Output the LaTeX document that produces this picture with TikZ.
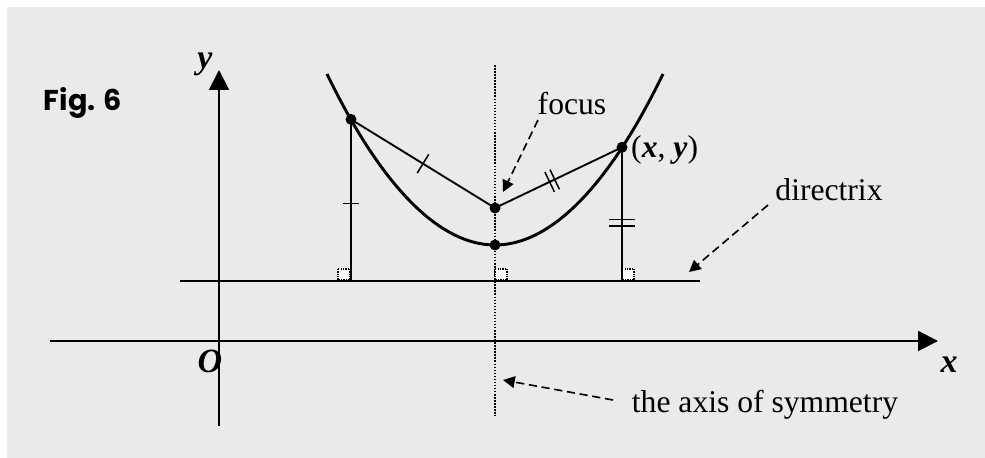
\documentclass[tikz,border=0pt]{standalone}
\usepackage{fontspec}
\setmainfont{Liberation Serif}
\newfontfamily\figfont{Poppins}
\usetikzlibrary{positioning,calc,arrows.meta}
\definecolor{panelGrey}{HTML}{EAEAEA}

\begin{document}
\begin{tikzpicture}[x=0.03cm, y=-0.03cm,
  lbl/.style={font=\fontsize{27}{32}\selectfont, inner sep=0pt},
  axlbl/.style={font=\fontsize{29}{34}\selectfont\bfseries\itshape, inner sep=0pt},
  callout/.style={dashed, dash pattern=on 7pt off 4pt, line width=1.4pt,
    -{Triangle[length=10pt, width=10pt]}}]

%% panel -------------------------------------------------------------
\useasboundingbox (0,0) rectangle (985,458);
\fill[panelGrey] (7,7) rectangle (985,458);

\def\kPar{0.00606}    % curvature of the parabola
\def\xV{495}          % vertex x
\def\yV{245}          % vertex y
\def\yD{281}          % directrix y

% --- POINTS ---
\coordinate (vx) at (\xV, \yV);
\coordinate (fc) at (\xV, 208);
\pgfmathsetmacro\yL{\yV - (\kPar*(351-\xV))*(351-\xV)}
\pgfmathsetmacro\yR{\yV - (\kPar*(622-\xV))*(622-\xV)}
\coordinate (lp) at (351, \yL);
\coordinate (rp) at (622, \yR);
\coordinate (lf) at (351, \yD);
\coordinate (vf) at (\xV, \yD);
\coordinate (rf) at (622, \yD);

% --- AXES ---
\coordinate (xs) at (50, 341);
\coordinate (xe) at (938, 341);
\coordinate (ys) at (219, 426);
\coordinate (ye) at (219, 70);
\draw[line width=1.7pt, -{Triangle[length=17pt, width=17pt]}] (xs) -- (xe);
\draw[line width=1.7pt, -{Triangle[length=17pt, width=17pt]}] (ys) -- (ye);
\node[axlbl] (lblx) at (949, 365) {x};
\node[axlbl] (lbly) at (205, 64) {y};
\node[axlbl] (lblO) at (210, 361) {O};

% --- AXIS OF SYMMETRY (dotted) ---
\coordinate (at) at (\xV, 65);
\coordinate (ab) at (\xV, 416);
\draw[line width=1.1pt, dash pattern=on 1.3pt off 1.3pt] (at) -- (ab);

% --- RIGHT-ANGLE MARKS ---
\foreach \p/\dx in {lf/-13, vf/0, rf/0} {
  \draw[fill=white, line width=0.9pt, dash pattern=on 1pt off 1pt]
    ($(\p)+(\dx,-12)$) rectangle ($(\p)+(\dx+12,-1)$);
}

% --- DIRECTRIX ---
\coordinate (ds) at (180, \yD);
\coordinate (de) at (700, \yD);
\draw[line width=2.2pt] (ds) -- (de);

% --- DISTANCES ---
\draw[line width=1.6pt] (lp) -- (fc) -- (rp);
\draw[line width=1.6pt] (lp) -- (lf);
\draw[line width=1.6pt] (rp) -- (rf);

% single ticks
\coordinate (m1) at ($(lp)!0.5!(fc)$);
\draw[line width=1.3pt] ($(m1)!0.33cm!90:(fc)$) -- ($(m1)!0.33cm!-90:(fc)$);
\coordinate (m2) at ($(lp)!0.52!(lf)$);
\draw[line width=1.3pt] ($(m2)+(-8,0)$) -- ($(m2)+(8,0)$);
% double ticks
\foreach \t in {0.43,0.47} {
  \coordinate (m3) at ($(fc)!\t!(rp)$);
  \draw[line width=1.3pt] ($(m3)!0.33cm!90:(rp)$) -- ($(m3)!0.33cm!-90:(rp)$);
}
\foreach \t in {0.54,0.59} {
  \coordinate (m4) at ($(rp)!\t!(rf)$);
  \draw[line width=1.3pt] ($(m4)+(-13,0)$) -- ($(m4)+(13,0)$);
}

% --- PARABOLA ---
\draw[line width=2.5pt] (327,74) parabola bend (vx) (663,74);

% --- DOTS ---
\foreach \p in {lp,rp,fc,vx} \fill (\p) circle[radius=1.65mm];

% --- LABELS + CALLOUTS ---
\node[lbl, anchor=west] (lblp) at (631, 150) {(\textbf{\textit{x}}, \textbf{\textit{y}})};
\node[lbl] (lblf) at (572, 104) {focus};
\node[lbl] (lbld) at (829, 190) {directrix};
\node[lbl] (lbla) at (765, 405) {the axis of symmetry};
\coordinate (sf) at (538, 120);
\coordinate (sd) at (768, 205);
\coordinate (sa) at (613, 400);
\coordinate (tf) at (503, 192);
\coordinate (td) at (689, 272);
\coordinate (ta) at (503, 380);
\draw[callout] (sf) -- (tf);
\draw[callout] (sd) -- (td);
\draw[callout] (sa) -- (ta);

% --- TITLE ---
\node[font=\figfont\bfseries\fontsize{24.5}{28}\selectfont, inner sep=0pt] (fig) at (83, 103) {Fig. 6};

\end{tikzpicture}
\end{document}
